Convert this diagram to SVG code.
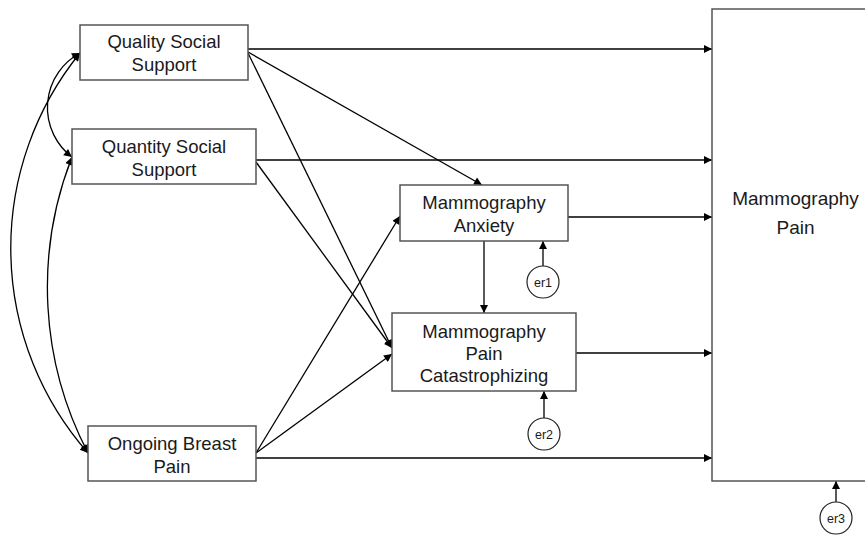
<svg xmlns="http://www.w3.org/2000/svg" width="865" height="540" viewBox="0 0 865 540">
<defs>
<marker id="ah" viewBox="0 0 10 10" refX="10" refY="5" markerWidth="10" markerHeight="8" markerUnits="userSpaceOnUse" orient="auto-start-reverse">
<path d="M0,0 L10,5 L0,10 z" fill="#000"/>
</marker>
<style>
.box{fill:#fff;stroke:#555;stroke-width:1.5}
.t{font-family:"Liberation Sans",Arial,sans-serif;font-size:18.5px;fill:#1a1a1a;text-anchor:middle}
.big{font-size:19px}
.e{font-family:"Liberation Sans",Arial,sans-serif;font-size:12.5px;fill:#1a1a1a;text-anchor:middle}
.c{fill:#fff;stroke:#222;stroke-width:1.2}
.ln{fill:none;stroke:#000;stroke-width:1.3;marker-end:url(#ah)}
.dbl{fill:none;stroke:#000;stroke-width:1.3;marker-start:url(#ah);marker-end:url(#ah)}
</style>
</defs>
<rect width="865" height="540" fill="#fff"/>
<g id="connectors">
<line class="ln" x1="248" y1="49" x2="712" y2="49"/>
<line class="ln" x1="248" y1="52" x2="482" y2="185"/>
<line class="ln" x1="248" y1="53" x2="392" y2="348"/>
<line class="ln" x1="256" y1="160" x2="712" y2="160"/>
<line class="ln" x1="256" y1="162" x2="392" y2="348"/>
<line class="ln" x1="256" y1="453" x2="400" y2="216"/>
<line class="ln" x1="256" y1="453" x2="392" y2="354"/>
<line class="ln" x1="256" y1="458" x2="712" y2="458"/>
<line class="ln" x1="568" y1="217" x2="712" y2="217"/>
<line class="ln" x1="484" y1="241" x2="484" y2="313"/>
<line class="ln" x1="576" y1="353" x2="712" y2="353"/>
<line class="ln" x1="543" y1="266" x2="543" y2="241"/>
<line class="ln" x1="544" y1="418" x2="544" y2="391"/>
<line class="ln" x1="836" y1="502" x2="836" y2="481"/>
<path class="dbl" d="M80,53 A62,62 0 0 0 72,157"/>
<path class="dbl" d="M80,53 A310,310 0 0 0 88,453"/>
<path class="dbl" d="M72,157 A358,358 0 0 0 88,453"/>
</g>
<g id="quality">
<rect class="box" x="80" y="25" width="168" height="55"/>
<text class="t" x="164" y="48">Quality Social</text>
<text class="t" x="164" y="71">Support</text>
</g>
<g id="quantity">
<rect class="box" x="72" y="129" width="184" height="55"/>
<text class="t" x="164" y="153">Quantity Social</text>
<text class="t" x="164" y="175.5">Support</text>
</g>
<g id="ongoing">
<rect class="box" x="88" y="426" width="168" height="55"/>
<text class="t" x="172" y="449.5">Ongoing Breast</text>
<text class="t" x="172" y="473">Pain</text>
</g>
<g id="anxiety">
<rect class="box" x="400" y="185" width="168" height="56"/>
<text class="t" x="484" y="209">Mammography</text>
<text class="t" x="484" y="231.5">Anxiety</text>
</g>
<g id="catastrophizing">
<rect class="box" x="392" y="313" width="184" height="78"/>
<text class="t" x="484" y="337.5">Mammography</text>
<text class="t" x="484" y="360">Pain</text>
<text class="t" x="484" y="382">Catastrophizing</text>
</g>
<g id="pain">
<rect class="box" x="712" y="9" width="170" height="472"/>
<text class="t big" x="795.5" y="205">Mammography</text>
<text class="t big" x="795.5" y="234">Pain</text>
</g>
<g id="er1">
<circle class="c" cx="543" cy="282" r="16"/>
<text class="e" x="543" y="286.5">er1</text>
</g>
<g id="er2">
<circle class="c" cx="544" cy="434" r="16"/>
<text class="e" x="544" y="438.5">er2</text>
</g>
<g id="er3">
<circle class="c" cx="836" cy="518" r="16"/>
<text class="e" x="836" y="522.5">er3</text>
</g>
</svg>
